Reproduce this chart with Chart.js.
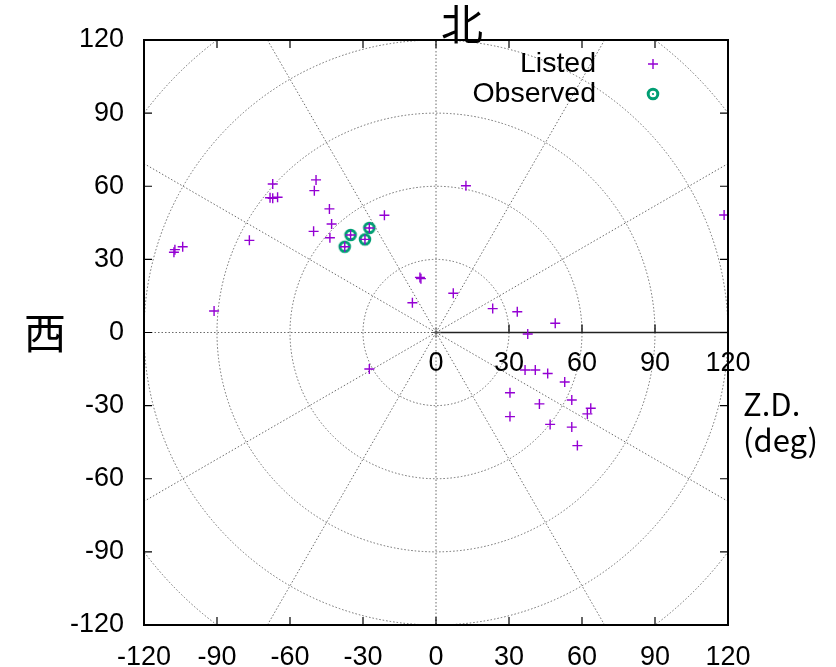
<!DOCTYPE html>
<html>
<head>
<meta charset="utf-8">
<script src="https://cdn.jsdelivr.net/npm/chart.js@4"></script>
<style>
  html, body { margin: 0; padding: 0; background: #fff; }
  #wrap { width: 836px; height: 667px; }
</style>
</head>
<body>
<div id="wrap"><canvas id="polar"></canvas></div>
<script>
// values (x = east/west offset, y = north offset, deg)
const listedX = [-67.1, -49.3, -50.0, -68.2, -67.1, -65.1, -43.8, -42.9, -50.3, -43.6, -21.2,
  -27.4, -35.1, -29.2, -37.5, -107.7, -107.3, -104.1, -76.7, -91.2, -6.2, -6.6, -9.7,
  12.3, 118.4, 7.1, 23.3, 33.4, 49.0, 37.7, 36.6, 40.8, 45.9, 52.9, 30.4, 55.8, 42.5,
  63.6, 62.2, 30.4, 46.9, 55.8, 58.1, -27.4];
const listedY = [60.9, 62.6, 58.2, 55.3, 55.1, 55.5, 50.7, 44.5, 41.5, 38.9, 48.1,
  42.9, 40.0, 38.2, 35.2, 32.9, 34.0, 35.2, 37.8, 8.8, 22.1, 22.6, 12.2,
  60.2, 48.2, 16.1, 9.8, 8.5, 3.8, -0.6, -15.4, -15.4, -16.8, -20.3, -24.7, -27.7, -29.3,
  -31.1, -33.4, -34.5, -37.7, -38.8, -46.4, -15.0];
const observedX = [-27.4, -35.1, -29.2, -37.5];
const observedY = [42.9, 40.0, 38.2, 35.2];

const axisTicks = [-120, -90, -60, -30, 0, 30, 60, 90, 120];
const polarTicks = [0, 30, 60, 90, 120];
const gridRadii = [30, 60, 90, 120, 150];
const gridAngles = [30, 60, 90, 120, 150, 180, 210, 240, 270, 300, 330];

const PURPLE = '#9400d3';
const GREEN = '#009e73';
const NUM_FAMILY = "'Liberation Sans', Arial, sans-serif";
const CJK_FONT = "'Noto Sans CJK JP', sans-serif";

// ring with a small centre dot, like gnuplot's open circle
const ring = document.createElement('canvas');
ring.width = 18; ring.height = 18;
(() => {
  const c = ring.getContext('2d');
  c.strokeStyle = GREEN; c.fillStyle = GREEN; c.lineWidth = 3;
  c.beginPath(); c.arc(9, 9, 4.8, 0, Math.PI * 2); c.stroke();
  c.beginPath(); c.arc(9, 9, 1.1, 0, Math.PI * 2); c.fill();
})();

const toPts = (xs, ys) => xs.map((x, i) => ({ x, y: ys[i] }));

const polarGrid = {
  id: 'polarGrid',
  beforeDatasetsDraw(chart) {
    const { ctx, chartArea: a, scales: { x, y } } = chart;
    const cx = x.getPixelForValue(0), cy = y.getPixelForValue(0);
    ctx.save();
    ctx.beginPath(); ctx.rect(a.left, a.top, a.right - a.left, a.bottom - a.top); ctx.clip();
    ctx.strokeStyle = '#6a6a6a'; ctx.lineWidth = 1; ctx.setLineDash([1.5, 2]);
    gridRadii.forEach(r => {
      const rx = x.getPixelForValue(r) - cx, ry = cy - y.getPixelForValue(r);
      ctx.beginPath(); ctx.ellipse(cx, cy, rx, ry, 0, 0, Math.PI * 2); ctx.stroke();
    });
    gridAngles.forEach(d => {
      const t = d * Math.PI / 180;
      ctx.beginPath(); ctx.moveTo(cx, cy);
      ctx.lineTo(x.getPixelForValue(200 * Math.cos(t)), y.getPixelForValue(200 * Math.sin(t)));
      ctx.stroke();
    });
    ctx.setLineDash([]);
    // polar axis with its ticks
    ctx.strokeStyle = '#222'; ctx.lineWidth = 1.5;
    ctx.beginPath(); ctx.moveTo(cx, cy); ctx.lineTo(x.getPixelForValue(120), cy); ctx.stroke();
    polarTicks.slice(1).forEach(v => {
      const px = x.getPixelForValue(v);
      ctx.beginPath(); ctx.moveTo(px, cy); ctx.lineTo(px, cy - 8); ctx.stroke();
    });
    ctx.lineWidth = 1; ctx.strokeStyle = '#555';
    ctx.beginPath();
    ctx.moveTo(cx - 5, cy); ctx.lineTo(cx + 5, cy);
    ctx.moveTo(cx, cy - 5); ctx.lineTo(cx, cy + 5);
    ctx.stroke();
    ctx.restore();
  },
  afterDatasetsDraw(chart) {
    const { ctx, chartArea: a, scales: { x, y } } = chart;
    const cy = y.getPixelForValue(0);
    ctx.save();
    // frame and inward ticks
    ctx.strokeStyle = '#000'; ctx.lineWidth = 2;
    ctx.strokeRect(a.left, a.top, a.right - a.left, a.bottom - a.top);
    ctx.lineWidth = 1.2;
    ctx.beginPath();
    axisTicks.forEach(v => {
      const px = x.getPixelForValue(v), py = y.getPixelForValue(v);
      ctx.moveTo(px, a.bottom); ctx.lineTo(px, a.bottom - 8);
      ctx.moveTo(px, a.top); ctx.lineTo(px, a.top + 8);
      ctx.moveTo(a.left, py); ctx.lineTo(a.left + 8, py);
      ctx.moveTo(a.right, py); ctx.lineTo(a.right - 8, py);
    });
    ctx.stroke();

    ctx.fillStyle = '#000';
    ctx.font = '27px ' + NUM_FAMILY; ctx.textAlign = 'center'; ctx.textBaseline = 'middle';
    polarTicks.forEach(v => ctx.fillText(String(v), x.getPixelForValue(v), cy + 31));

    // legend
    const ds = chart.data.datasets;
    ctx.font = '28.5px ' + NUM_FAMILY; ctx.textAlign = 'right';
    ds.forEach((d, i) => {
      const ly = 64 + i * 30;
      ctx.fillStyle = '#000';
      ctx.fillText(d.label, 596, ly);
      if (d.pointStyle === 'cross') {
        ctx.strokeStyle = d.borderColor; ctx.lineWidth = d.borderWidth;
        ctx.beginPath();
        ctx.moveTo(653 - 5, ly); ctx.lineTo(653 + 5, ly);
        ctx.moveTo(653, ly - 5); ctx.lineTo(653, ly + 5);
        ctx.stroke();
      } else {
        Chart.helpers.drawPoint(ctx, { pointStyle: d.pointStyle, radius: d.pointRadius, rotation: 0 }, 653, ly);
      }
    });

    // direction and axis labels
    ctx.fillStyle = '#000';
    ctx.font = '42px ' + CJK_FONT; ctx.textAlign = 'center';
    ctx.fillText('北', 462, 24);
    ctx.fillText('西', 45, 333);
    ctx.font = '31px ' + CJK_FONT; ctx.textAlign = 'left';
    ctx.fillText('Z.D.', 743, 404);
    ctx.fillText('(deg)', 743, 440);
    ctx.restore();
  }
};

const fixedAxis = (w, h) => s => { if (w) s.width = w; if (h) s.height = h; };

new Chart(document.getElementById('polar'), {
  type: 'scatter',
  data: {
    datasets: [
      { label: 'Listed', data: toPts(listedX, listedY), pointStyle: 'cross', pointRadius: 5,
        borderColor: PURPLE, backgroundColor: PURPLE, borderWidth: 1.4 },
      { label: 'Observed', data: toPts(observedX, observedY), pointStyle: ring, pointRadius: 6,
        borderColor: GREEN, backgroundColor: GREEN, borderWidth: 3 },
    ],
  },
  options: {
    responsive: true, maintainAspectRatio: false, animation: false,
    layout: { padding: { left: 0, right: 108, top: 40, bottom: 0 } },
    plugins: { legend: { display: false }, tooltip: { enabled: false } },
    elements: { point: { hoverRadius: 5 } },
    scales: {
      x: {
        type: 'linear', min: -120, max: 120,
        afterFit: fixedAxis(0, 42),
        grid: { display: false, drawTicks: false }, border: { display: false },
        ticks: { stepSize: 30, color: '#000', padding: 16, font: { family: NUM_FAMILY, size: 27 } },
      },
      y: {
        type: 'linear', min: -120, max: 120,
        afterFit: fixedAxis(144, 0),
        grid: { display: false, drawTicks: false }, border: { display: false },
        ticks: { stepSize: 30, color: '#000', padding: 20, font: { family: NUM_FAMILY, size: 27 } },
      },
    },
  },
  plugins: [polarGrid],
});
</script>
</body>
</html>
